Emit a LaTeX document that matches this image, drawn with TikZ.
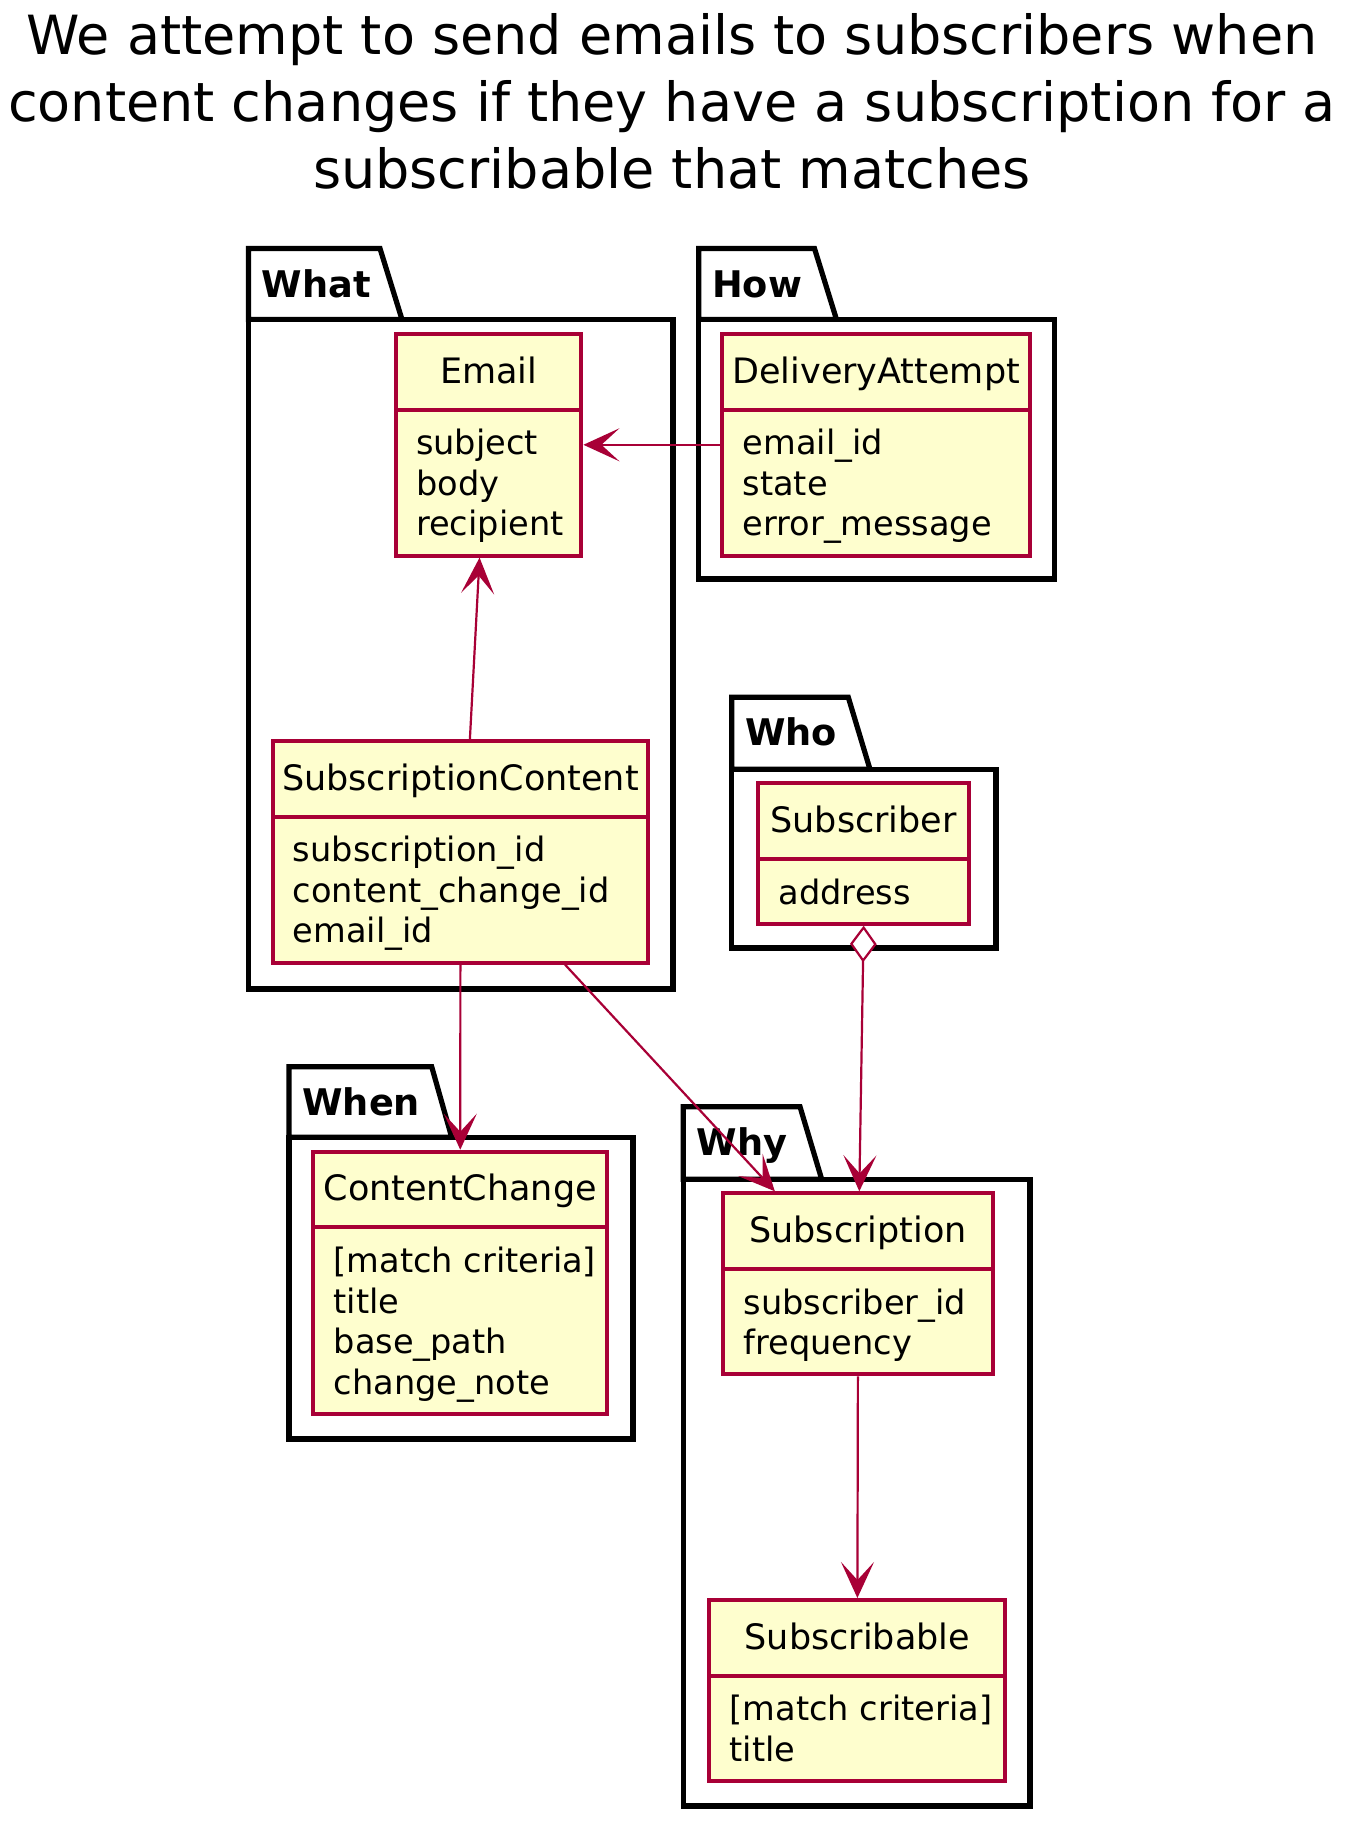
\documentclass[tikz,border=0pt]{standalone}
\usepackage{fontspec}
\setmainfont{DejaVu Sans}
\usepackage{tikz}
\usetikzlibrary{fit,calc,arrows.meta}
\definecolor{umlred}{HTML}{A80036}
\definecolor{umlyellow}{HTML}{FEFECE}
\newcommand\classfont{\fontsize{17.5pt}{20.3pt}\selectfont}
\newcommand\fieldfont{\fontsize{16.8pt}{20.3pt}\selectfont}
\newcommand\pkgfont{\bfseries\fontsize{18.35pt}{22pt}\selectfont}
\newcommand\titlefont{\fontsize{27pt}{33.5pt}\selectfont}
\tikzset{
        x=0.5pt, y=-0.5pt, % one unit is one pixel of the drawing
        pkg/.style={draw=black, line width=2.6pt, fill=white}, % package frames
        pkglabel/.style={font=\pkgfont, anchor=base west, inner sep=0pt},
        classbox/.style={draw=umlred, fill=umlyellow, line width=2pt, inner sep=0pt},
        classline/.style={draw=umlred, line width=2pt},
        classname/.style={font=\classfont, anchor=base, inner sep=0pt},
        fields/.style={font=\fieldfont, anchor=north west, align=left, inner sep=0pt},
        link/.style={draw=umlred, line width=1.1pt, -{Stealth[length=18pt,width=16.5pt,inset=9pt]}},
        heading/.style={font=\titlefont, align=center, anchor=north, inner sep=0pt},
}

\begin{document}
\begin{tikzpicture}
\useasboundingbox (0,0) rectangle (1368,1842);

\node[heading] (title) at (672,13) {We attempt to send emails to subscribers when\\content changes if they have a subscription for a\\subscribable that matches};

% packages
\foreach \name/\lbl/\l/\t/\tr/\br/\bt/\r/\bot in {
    what/What/248.5/248.5/380/402/319.5/673/989,
    how/How/698.8/248.5/814.5/836.5/319.5/1054.7/579,
    who/Who/731.7/697.3/848.3/870/769.3/996/948,
    when/When/289/1066.7/431.7/451.7/1137.3/633/1439,
    why/Why/683.3/1106.7/800/821.7/1179.3/1030/1806}
{
  \draw[pkg] (\l,\bt) -- (\l,\t) -- (\tr,\t) -- (\br,\bt) -- cycle;
  \draw[pkg] (\l,\bt) rectangle (\r,\bot);
  \node[pkglabel] (\name) at (\l+13,\t+48.5) {\lbl};
}

% classes
\foreach \name/\l/\t/\r/\n/\cname/\cfields in {
    email/395.7/334/581.4/3/Email/{subject\\body\\recipient},
    delivery/722.3/334/1030/3/DeliveryAttempt/{email\_id\\state\\error\_message},
    content/272.5/741/648.3/3/SubscriptionContent/{subscription\_id\\content\_change\_id\\email\_id},
    subscriber/758.3/783.3/969/1/Subscriber/{address},
    change/313.3/1151.7/607.2/4/ContentChange/{[match criteria]\\title\\base\_path\\change\_note},
    subscription/723.3/1193.3/992.5/2/Subscription/{subscriber\_id\\frequency},
    subscribable/709.4/1600/1005.4/2/Subscribable/{[match criteria]\\title}}
{
  \pgfmathsetmacro\divy{\t+75.5}
  \pgfmathsetmacro\boty{\divy+24.3+40.6*\n}
  \node[classbox, fit={(\l,\t) (\r,\boty)}] (\name) {};
  \draw[classline] (\l,\divy) -- (\r,\divy);
  \node[classname] (\name-name) at ($(\name.north)+(0,51)$) {\cname};
  \node[fields] (\name-fields) at (\l+20,\divy+19.3) {\cfields};
}

% links
\draw[link] (delivery.west) -- (email.east);
\draw[link] ($(content.north)+(9.5,0)$) -- ($(email.south)+(-9,0)$);
\draw[link] (content.south) -- (change.north);
\draw[link] ($(content.south)+(104.6,0)$) -- ($(subscription.north)+(-83,0)$);
\draw[link, {Diamond[fill=white,length=18.35pt,width=13.35pt]}-{Stealth[length=18pt,width=16.5pt,inset=9pt]}] (subscriber.south) -- ($(subscription.north)+(1.4,0)$);
\draw[link] (subscription.south) -- (subscribable.north);
\end{tikzpicture}
\end{document}
